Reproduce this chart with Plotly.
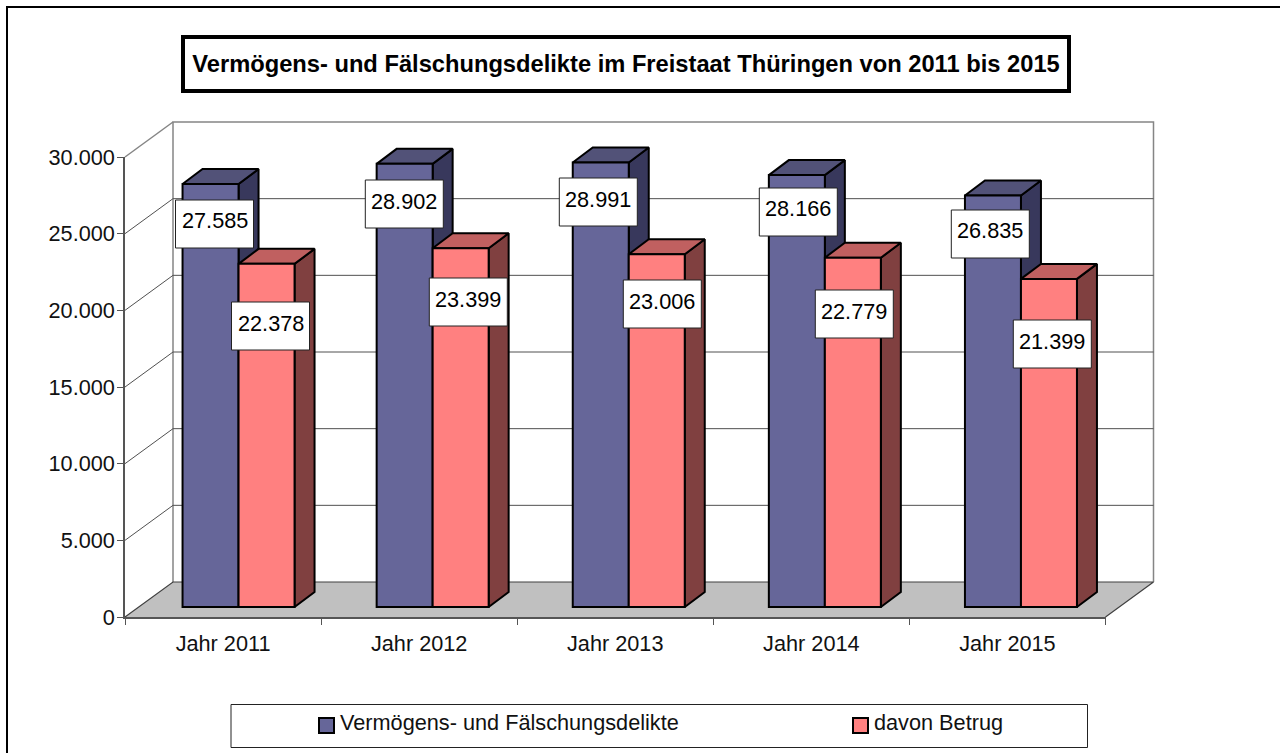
import plotly.graph_objects as go

# Daten
years = ['Jahr 2011', 'Jahr 2012', 'Jahr 2013', 'Jahr 2014', 'Jahr 2015']
delikte = [27585, 28902, 28991, 28166, 26835]
betrug = [22378, 23399, 23006, 22779, 21399]
y_ticks = [0, 5000, 10000, 15000, 20000, 25000, 30000]
y_tick_labels = ['0', '5.000', '10.000', '15.000', '20.000', '25.000', '30.000']
name_delikte = 'Vermögens- und Fälschungsdelikte'
name_betrug = 'davon Betrug'
title = 'Vermögens- und Fälschungsdelikte im Freistaat Thüringen von 2011 bis 2015'

# Pixelgeometrie der vorderen Achsenebene
W, H = 1280, 753
LEFT, RIGHT, TOP, BOTTOM = 125, 1105.5, 157, 617
X_PER_PX = 5 / (RIGHT - LEFT)
Y_PER_PX = 30000 / (BOTTOM - TOP)

WALL_DX = 48 * X_PER_PX
WALL_DY = 35 * Y_PER_PX
BAR_DX = 20 * X_PER_PX
BAR_DY = 15 * Y_PER_PX
BAR_W = 56 * X_PER_PX
BAR_SHIFT = 13.5 * X_PER_PX
BAR_BASE = 10 * Y_PER_PX
# die erste Gruppe sitzt im Original etwas weiter rechts
group_nudge = [2 * X_PER_PX, 0, 0, 0, 0]

# Position der Wertelabels (Pixel, Mitte der Box)
label_x_delikte = [214.5, 404.3, 598.3, 798.3, 990.3]
label_y_delikte = [224, 204, 202, 212, 234]
label_x_betrug = [270.5, 468.3, 662.3, 854.3, 1052.3]
label_y_betrug = [326, 302, 304, 314, 344]

FONT = 'Liberation Sans'
SIZE = 21.7


def px(x):
    return x / W


def py(y):
    return 1 - y / H


def fmt(v):
    return f'{v:,}'.replace(',', '.')


def faces(values, shift):
    side_x, side_y, top_x, top_y = [], [], [], []
    for i, v in enumerate(values):
        xl = i + group_nudge[i] + shift - BAR_W / 2
        xr = i + group_nudge[i] + shift + BAR_W / 2
        t = BAR_BASE + v
        side_x += [xr, xr + BAR_DX, xr + BAR_DX, xr, xr, None]
        side_y += [BAR_BASE, BAR_BASE + BAR_DY, t + BAR_DY, t, BAR_BASE, None]
        top_x += [xl, xl + BAR_DX, xr + BAR_DX, xr, xl, None]
        top_y += [t, t + BAR_DY, t + BAR_DY, t, t, None]
    return side_x, side_y, top_x, top_y


def poly(x, y, fill, line='black', width=2):
    return go.Scatter(x=x, y=y, mode='lines', fill='toself', fillcolor=fill,
                      line=dict(color=line, width=width),
                      hoverinfo='skip', showlegend=False)


def lines(x, y, color, width=1):
    return go.Scatter(x=x, y=y, mode='lines', line=dict(color=color, width=width),
                      hoverinfo='skip', showlegend=False)


x0, x1 = -0.5, 4.5
fig = go.Figure()

# Rückwand und Boden
fig.add_trace(poly([x0, x0 + WALL_DX, x1 + WALL_DX, x1, x0],
                   [0, WALL_DY, WALL_DY, 0, 0], '#C0C0C0', 'rgba(0,0,0,0)', 0))
fig.add_trace(lines([x0, x0 + WALL_DX, None, x0 + WALL_DX, x0 + WALL_DX, x1 + WALL_DX, x1 + WALL_DX],
                    [30000, 30000 + WALL_DY, None, WALL_DY, 30000 + WALL_DY, 30000 + WALL_DY, WALL_DY],
                    '#858585', 1.5))
grid_x, grid_y = [], []
for t in y_ticks[1:-1]:
    grid_x += [x0, x0 + WALL_DX, x1 + WALL_DX, None]
    grid_y += [t, t + WALL_DY, t + WALL_DY, None]
fig.add_trace(lines(grid_x, grid_y, '#505050', 1))
fig.add_trace(lines([x0, x0 + WALL_DX, x1 + WALL_DX, x1], [0, WALL_DY, WALL_DY, 0], '#404040', 1.2))

# Seiten und Deckel der Säulen
shift_a = BAR_SHIFT - BAR_W / 2
shift_b = BAR_SHIFT + BAR_W / 2
sx, sy, tx, ty = faces(delikte, shift_a)
fig.add_trace(poly(sx, sy, '#38385C'))
fig.add_trace(poly(tx, ty, '#525278'))
sx, sy, tx, ty = faces(betrug, shift_b)
fig.add_trace(poly(sx, sy, '#804040'))
fig.add_trace(poly(tx, ty, '#C06060'))

# Vorderseiten als Balken über den Seitenflächen
cat = list(range(len(years)))
fig.add_trace(go.Bar(x=[c + n + shift_a for c, n in zip(cat, group_nudge)], y=delikte, base=BAR_BASE, width=BAR_W,
                     name=name_delikte, marker=dict(color='#666699', line=dict(color='black', width=2)),
                     xaxis='x3', yaxis='y3', hoverinfo='skip', showlegend=False))
fig.add_trace(go.Bar(x=[c + n + shift_b for c, n in zip(cat, group_nudge)], y=betrug, base=BAR_BASE, width=BAR_W,
                     name=name_betrug, marker=dict(color='#FF8080', line=dict(color='black', width=2)),
                     xaxis='x3', yaxis='y3', hoverinfo='skip', showlegend=False))

# leere Spur, damit die sichtbaren Achsen gezeichnet werden
fig.add_trace(go.Scatter(x=[None], y=[None], mode='lines', xaxis='x2', yaxis='y2',
                         hoverinfo='skip', showlegend=False))

full_x = [(0 - LEFT) * X_PER_PX + x0, (W - LEFT) * X_PER_PX + x0]
full_y = [(BOTTOM - H) * Y_PER_PX, BOTTOM * Y_PER_PX]
ax_color = '#555555'
fig.update_layout(
    width=W,
    height=H,
    autosize=False,
    margin={'l': 0, 'r': 0, 't': 0, 'b': 0, 'pad': 0},
    paper_bgcolor='white',
    plot_bgcolor='rgba(0,0,0,0)',
    font=dict(family=FONT, size=SIZE, color='#111111'),
    showlegend=False,
    barmode='overlay',
    # Zeichenebene über die ganze Seite
    xaxis=dict(range=full_x, domain=[0, 1], visible=False, automargin=False),
    yaxis=dict(range=full_y, domain=[0, 1], visible=False, automargin=False),
    xaxis3=dict(range=full_x, overlaying='x', visible=False, automargin=False),
    yaxis3=dict(range=full_y, overlaying='y', visible=False, automargin=False),
    # sichtbare Achsen in der vorderen Ebene
    xaxis2=dict(domain=[px(LEFT), px(RIGHT)], anchor='y2', range=[x0, x1], tickmode='array',
                tickvals=cat, ticktext=years, ticks='', showgrid=False, zeroline=False, automargin=False,
                showline=True, linecolor=ax_color, linewidth=1.5, ticklabelstandoff=6,
                minor=dict(tickmode='array', tickvals=[x0 + i for i in range(6)], ticks='outside',
                           ticklen=6, tickwidth=1, tickcolor=ax_color, showgrid=False)),
    yaxis2=dict(domain=[py(BOTTOM), py(TOP)], anchor='x2', range=[0, 30000], tickmode='array',
                tickvals=y_ticks, ticktext=y_tick_labels, ticks='outside', ticklen=6, tickwidth=1,
                tickcolor=ax_color, showgrid=False, zeroline=False, showline=True, automargin=False,
                linecolor=ax_color, linewidth=1.5, ticklabelstandoff=-2),
)

# Wertelabels: weiße Box, Text sitzt im Original etwas über der Mitte
for vals, xs, ys in [(delikte, label_x_delikte, label_y_delikte), (betrug, label_x_betrug, label_y_betrug)]:
    for v, lx, ly in zip(vals, xs, ys):
        fig.add_shape(type='rect', xref='paper', yref='paper', x0=px(lx - 39), x1=px(lx + 39),
                      y0=py(ly + 24), y1=py(ly - 24), line=dict(color='#222222', width=1), fillcolor='white')
        fig.add_annotation(xref='paper', yref='paper', x=px(lx), y=py(ly - 3), text=fmt(v), showarrow=False,
                           xanchor='center', yanchor='middle', align='center',
                           font=dict(family=FONT, size=SIZE, color='black'))

# Titel
fig.add_annotation(xref='paper', yref='paper', x=px(626), y=py(64), text=f'<b>{title}</b>', showarrow=False,
                   xanchor='center', yanchor='middle', width=882, height=50, align='center',
                   bgcolor='white', bordercolor='black', borderwidth=4, borderpad=0,
                   font=dict(family=FONT, size=23.7, color='black'))

# Rahmen und Legende
fig.add_shape(type='path', xref='paper', yref='paper',
              path=f'M {px(7)} {py(753)} L {px(7)} {py(7)} L {px(1280)} {py(7)}',
              line=dict(color='black', width=2))
fig.add_shape(type='rect', xref='paper', yref='paper', x0=px(231), x1=px(1087.5), y0=py(704.5), y1=py(747.5),
              line=dict(color='#222222', width=1), fillcolor='white')
for color, sx0, tx0, name in [('#666699', 319, 338, name_delikte), ('#FF8080', 853, 872, name_betrug)]:
    fig.add_shape(type='rect', xref='paper', yref='paper', x0=px(sx0), x1=px(sx0 + 15), y0=py(718), y1=py(733),
                  line=dict(color='black', width=2), fillcolor=color)
    fig.add_annotation(xref='paper', yref='paper', x=px(tx0), y=py(722), text=name, showarrow=False,
                       xanchor='left', yanchor='middle', font=dict(family=FONT, size=SIZE, color='#111111'))

fig.write_html("out.html", config={'displayModeBar': False},
               post_script="document.body.style.margin='0';document.body.style.overflow='hidden';")
